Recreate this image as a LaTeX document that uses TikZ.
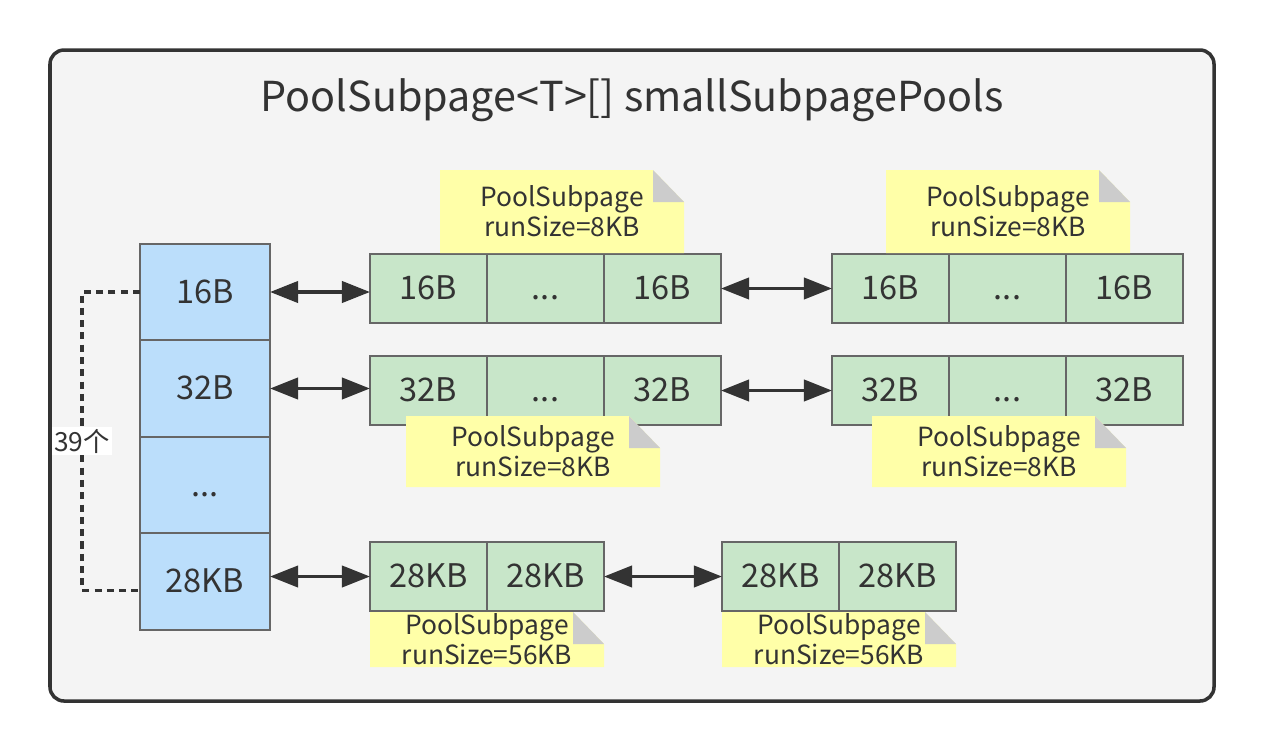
\documentclass[tikz,border=0pt]{standalone}
\usepackage{fontspec}
\setmainfont{Noto Sans CJK SC}
\usepackage{tikz}
\usetikzlibrary{arrows.meta,positioning}
\usepackage{xcolor}
\definecolor{ink}{HTML}{333333}
\definecolor{panel}{HTML}{F4F4F4}
\definecolor{edge}{HTML}{666666}
\definecolor{slotblue}{HTML}{BBDEFB}
\definecolor{cellgreen}{HTML}{C8E6C9}
\definecolor{noteyellow}{HTML}{FFFFA8}
\definecolor{foldgray}{HTML}{CCCCCC}

\begin{document}
\begin{tikzpicture}[
  x=0.02cm, y=-0.02cm, text=ink,
  slot/.style={draw=edge, line width=1.1pt, fill=slotblue, minimum width=2.6cm, minimum height=1.93cm, outer sep=0pt, text height=13pt, text depth=0pt, font=\fontsize{18.5}{20}\selectfont},
  cell/.style={draw=edge, line width=1.1pt, fill=cellgreen, minimum width=2.34cm, minimum height=1.38cm, outer sep=0pt, text height=13pt, text depth=0pt, font=\fontsize{18.5}{20}\selectfont},
  note/.style={align=center, inner sep=0pt, font=\fontsize{15}{17}\selectfont},
  link/.style={<->, line width=2.2pt, draw=ink},
  brace/.style={draw=ink, line width=2pt, dash pattern=on 4pt off 3pt},
  >={Triangle[length=16pt,width=12pt]}, node distance=0pt]
\useasboundingbox (0,0) rectangle (1264,752);
\draw[draw=ink, fill=panel, line width=2pt, rounded corners=8] (50,50) rectangle (1214,701);
\node[font=\fontsize{23.5}{28}\selectfont] (title) at (632,100) {PoolSubpage<T>[] smallSubpagePools};
% smallSubpagePools array
\node[slot] (s16) at (205,292) {16B};
\node[slot, below=of s16] (s32) {32B};
\node[slot, below=of s32] (sdots) {...};
\node[slot, below=of sdots] (s28) {28KB};
% subpage lists
\node[cell] (r1a1) at (428.5,288.5) {16B};
\node[cell, right=of r1a1] (r1a2) {...};
\node[cell, right=of r1a2] (r1a3) {16B};
\node[cell] (r1b1) at (890.5,288.5) {16B};
\node[cell, right=of r1b1] (r1b2) {...};
\node[cell, right=of r1b2] (r1b3) {16B};
\node[cell] (r2a1) at (428.5,390.5) {32B};
\node[cell, right=of r2a1] (r2a2) {...};
\node[cell, right=of r2a2] (r2a3) {32B};
\node[cell] (r2b1) at (890.5,390.5) {32B};
\node[cell, right=of r2b1] (r2b2) {...};
\node[cell, right=of r2b2] (r2b3) {32B};
\node[cell] (r3a1) at (428.5,576.5) {28KB};
\node[cell, right=of r3a1] (r3a2) {28KB};
\node[cell] (r3b1) at (780.5,576.5) {28KB};
\node[cell, right=of r3b1] (r3b2) {28KB};
% notes
\foreach \nx/\ny/\nw/\nh/\run [count=\i] in {440/170/244/83/8KB, 886/170/244/83/8KB, 406/416/254/71/8KB, 872/416/254/71/8KB, 370/612/234/55/56KB, 722/612/234/55/56KB} {
  \fill[noteyellow] (\nx,\ny) -- (\nx+\nw-31,\ny) -- (\nx+\nw,\ny+32) -- (\nx+\nw,\ny+\nh) -- (\nx,\ny+\nh) -- cycle;
  \fill[foldgray] (\nx+\nw-31,\ny) -- (\nx+\nw-31,\ny+32) -- (\nx+\nw,\ny+32) -- cycle;
  \node[note] (note\i) at (\nx+\nw/2,\ny+\nh/2) {PoolSubpage\\runSize=\run};
}
\draw[link] (s16.east) -- (s16.east -| r1a1.west);
\draw[link] (r1a3) -- (r1b1);
\draw[link] (s32.east) -- (s32.east -| r2a1.west);
\draw[link] (r2a3) -- (r2b1);
\draw[link] (s28.east |- r3a1) -- (r3a1.west);
\draw[link] (r3a2) -- (r3b1);
\draw[brace] (s16.west) -- ++(-58,0) |- node[pos=0.25, fill=white, inner sep=1pt, font=\fontsize{15}{17}\selectfont] (count) {39个} ([yshift=-0.18cm]s28.west);
\end{tikzpicture}
\end{document}
